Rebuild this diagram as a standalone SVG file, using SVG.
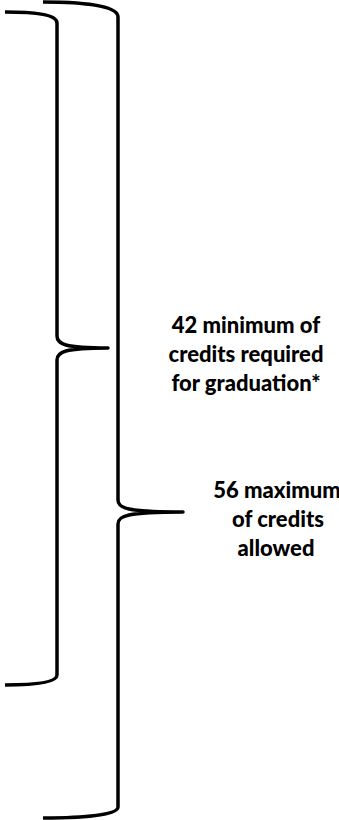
<svg xmlns="http://www.w3.org/2000/svg" width="339" height="820" viewBox="0 0 339 820">
<style>
.brace{fill:none;stroke:#000;stroke-width:3.5;stroke-linecap:butt;stroke-linejoin:round}
.lbl{font-family:Lato,"Open Sans","Liberation Sans",sans-serif;font-weight:900;font-size:22px;fill:#000;text-anchor:middle}
</style>
<rect width="339" height="820" fill="#fff"/>
<g id="brace-min">
<path class="brace" d="M5,12 C32,12 57,14 57,23 L57,336 C57,344 64,348 108,348 C64,348 57,352 57,360 L57,675 C57,683 32,685 5,685"/>
</g>
<g id="brace-max">
<path class="brace" d="M43,2 C85,2 118,6 118,17 L118,500 C118,508 126,512 183,512 C126,512 118,516 118,524 L118,807 C118,815 85,818 43,818"/>
</g>
<g id="label-min">
<text class="lbl" x="246" y="333">42 minimum of</text>
<text class="lbl" x="246" y="362">credits required</text>
<text class="lbl" x="246" y="391">for graduation*</text>
</g>
<g id="label-max">
<text class="lbl" x="277" y="498">56 maximum</text>
<text class="lbl" x="278" y="527">of credits</text>
<text class="lbl" x="276" y="556">allowed</text>
</g>
</svg>
